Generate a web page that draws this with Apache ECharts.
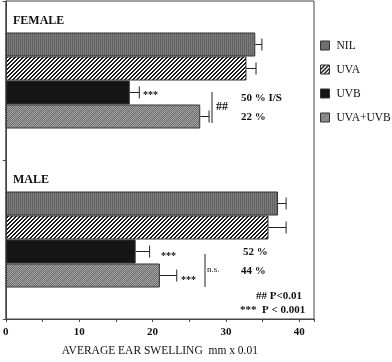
<!DOCTYPE html>
<html><head><meta charset="utf-8">
<script src="https://cdn.jsdelivr.net/npm/echarts@6/dist/echarts.min.js"></script>
<style>html,body{margin:0;padding:0;background:#fff}#c{width:392px;height:362px}</style>
</head><body><div id="c"></div>
<script>
// ---- data ----
var groups = ['FEMALE', 'MALE'];
var treatments = ['NIL', 'UVA', 'UVB', 'UVA+UVB'];
var nilVals = [34.0, 37.1];
var uvaVals = [32.8, 35.8];
var uvbVals = [16.9, 17.7];
var uvabVals = [26.5, 21.0];
var nilErr = [34.9, 38.2];
var uvaErr = [34.1, 38.2];
var uvbErr = [18.2, 19.6];
var uvabErr = [27.7, 23.3];
var xTicks = [0, 10, 20, 30, 40];

// ---- patterns ----
function mk(w, h, draw) {
  var c = document.createElement('canvas'); c.width = w; c.height = h;
  var g = c.getContext('2d'); draw(g, w, h);
  return { image: c, repeat: 'repeat' };
}
var patNil = mk(2, 2, function (g) {
  g.fillStyle = '#626262'; g.fillRect(0, 0, 2, 2);
  g.fillStyle = '#7c7c7c'; g.fillRect(1, 0, 1, 2);
});
var patUva = mk(4, 4, function (g) {
  g.fillStyle = '#ffffff'; g.fillRect(0, 0, 4, 4);
  g.fillStyle = '#1a1a1a';
  for (var i = 0; i < 4; i++) { g.fillRect(3 - i, i, 1, 1); g.fillRect((4 - i) % 4, i, 1, 1); }
});
var patUvb = '#151515';
var patUvab = mk(8, 8, function (g) {
  for (var y = 0; y < 8; y++) for (var x = 0; x < 8; x++) {
    g.fillStyle = ((x + y) % 2) ? '#707070' : '#a4a4a4';
    g.fillRect(x, y, 1, 1);
  }
  g.fillStyle = 'rgba(60,60,60,0.25)';
  for (var i = 0; i < 8; i++) { g.fillRect(7 - i, i, 1, 1); }
});
var colors = [patNil, patUva, patUvb, patUvab];
var vals = [nilVals, uvaVals, uvbVals, uvabVals];
var errs = [nilErr, uvaErr, uvbErr, uvabErr];

var FONT = 'Liberation Serif';
var chart = echarts.init(document.getElementById('c'));
var BW = 24;

var series = treatments.map(function (t, i) {
  return {
    name: t, type: 'bar', data: vals[i], barWidth: BW, barGap: '0%',
    itemStyle: { color: colors[i], borderColor: '#333', borderWidth: 1 },
    emphasis: { disabled: true }, z: 2
  };
});
var errData = [];
for (var s = 0; s < 4; s++) for (var g = 0; g < 2; g++) errData.push([g, s, vals[s][g], errs[s][g]]);
series.push({
  type: 'custom', name: 'err', data: errData, z: 3,
  encode: { x: [2, 3], y: 0 },
  renderItem: function (params, api) {
    var c = api.coord([api.value(2), api.value(0)]);
    var e = api.coord([api.value(3), api.value(0)]);
    var y = c[1] + (api.value(1) - 1.5) * BW;
    return { type: 'group', children: [
      { type: 'line', shape: { x1: c[0], y1: y, x2: e[0], y2: y }, style: { stroke: '#222', lineWidth: 1 } },
      { type: 'line', shape: { x1: e[0], y1: y - 6, x2: e[0], y2: y + 6 }, style: { stroke: '#222', lineWidth: 1 } }
    ] };
  }
});

function txt(x, y, s, opt) {
  var st = { text: s, fill: '#111', font: (opt && opt.font) || 'bold 12px "' + FONT + '"' };
  return { type: 'text', x: x, y: y, style: st, z: 10 };
}
function vline(x, y1, y2) {
  return { type: 'line', shape: { x1: x, y1: y1, x2: x, y2: y2 }, style: { stroke: '#222', lineWidth: 1 }, z: 10 };
}

chart.setOption({
  animation: false,
  grid: { left: 3, right: 78, top: 1, bottom: 39, show: true, borderColor: '#444', borderWidth: 1, backgroundColor: 'transparent' },
  legend: {
    orient: 'vertical', left: 318, top: 37, padding: 2, itemWidth: 9, itemHeight: 9, itemGap: 11,
    data: treatments, icon: 'rect', selectedMode: false,
    textStyle: { fontFamily: FONT, fontSize: 11.5, color: '#111', padding: [0, 0, 0, 2], lineHeight: 13, overflow: 'none' },
    itemStyle: { borderColor: '#333', borderWidth: 1 }
  },
  xAxis: {
    type: 'value', min: 0, max: 42, interval: 10,
    name: 'AVERAGE EAR SWELLING  mm x 0.01', nameLocation: 'middle', nameGap: 26,
    nameTextStyle: { fontFamily: FONT, fontSize: 11.5, color: '#111' },
    axisLine: { show: true, lineStyle: { color: '#444' } },
    axisTick: { show: true, length: 3, lineStyle: { color: '#444' } },
    minorTick: { show: true, splitNumber: 2, length: 3, lineStyle: { color: '#444' } },
    splitLine: { show: false },
    axisLabel: { fontFamily: FONT, fontSize: 11, fontWeight: 'bold', color: '#111', margin: 8, showMaxLabel: false,
      formatter: function (v) { return xTicks.indexOf(v) >= 0 ? String(v) : ''; } }
  },
  yAxis: {
    type: 'category', data: groups, inverse: true,
    axisLine: { show: true, lineStyle: { color: '#444' } },
    axisTick: { show: true, length: 3, lineStyle: { color: '#444' } },
    axisLabel: { show: false }
  },
  series: series,
  graphic: [
    txt(13, 15, 'FEMALE'),
    txt(13, 174, 'MALE'),
    txt(143, 90, '***', { font: 'bold 10px "' + FONT + '"' }),
    vline(212, 92, 123),
    txt(216, 101, '##', { font: 'bold 12px "' + FONT + '"' }),
    txt(241, 93, '50 % I/S', { font: 'bold 11px "' + FONT + '"' }),
    txt(241, 112, '22 %', { font: 'bold 11px "' + FONT + '"' }),
    txt(161, 251, '***', { font: 'bold 10px "' + FONT + '"' }),
    txt(181, 275, '***', { font: 'bold 10px "' + FONT + '"' }),
    vline(205, 254, 287),
    txt(207, 265, 'n.s.', { font: '9px "' + FONT + '"' }),
    txt(243, 247, '52 %', { font: 'bold 11px "' + FONT + '"' }),
    txt(241, 266, '44 %', { font: 'bold 11px "' + FONT + '"' }),
    txt(256, 291, '## P<0.01', { font: 'bold 11px "' + FONT + '"' }),
    txt(240, 305, '***  P < 0.001', { font: 'bold 11px "' + FONT + '"' })
  ]
});
</script></body></html>
